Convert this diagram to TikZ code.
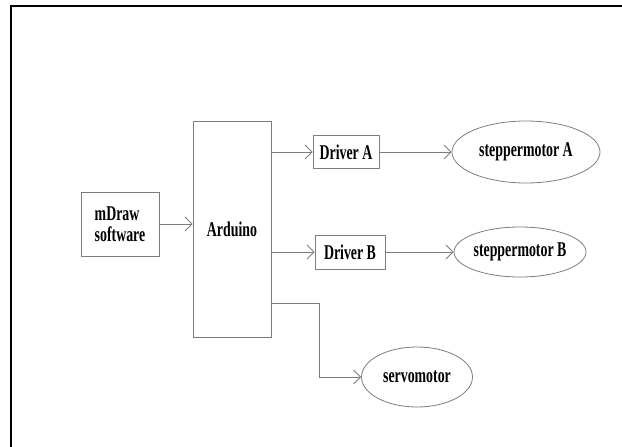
\documentclass[tikz,border=0pt]{standalone}
\usepackage{fontspec}
\newfontfamily\diagfont[FakeStretch=0.66]{Liberation Serif}
\usetikzlibrary{arrows.meta,shapes.geometric}

\begin{document}
\begin{tikzpicture}[x=1pt, y=-1pt,
	block/.style={draw=linegray, line width=0.8pt, rectangle, inner sep=0pt, font=\diagfont\bfseries\fontsize{21}{21}\selectfont},
	motor/.style={draw=linegray, line width=0.8pt, ellipse, inner sep=0pt, font=\diagfont\bfseries\fontsize{21}{21}\selectfont},
	link/.style={draw=linegray, line width=0.8pt, -{Straight Barb[length=7pt, width=14pt]}}]
	\definecolor{linegray}{RGB}{125,125,125}

	\useasboundingbox (0,0) rectangle (622,447);
	\draw[line width=2pt] (11,447) -- (11,6) -- (622,6);

	\node[block, minimum width=78pt, minimum height=64pt, align=left] (mdraw) at (120,224) {mDraw\\software};
	\node[block, minimum width=78pt, minimum height=216pt] (arduino) at (232,229) {Arduino};
	\node[block, minimum width=66pt, minimum height=33pt] (driverA) at (346,152) {Driver A};
	\node[block, minimum width=70pt, minimum height=34pt] (driverB) at (350,252) {Driver B};

	\node[motor, minimum width=148pt, minimum height=62pt] (stepA) at (526,152) {steppermotor A};
	\node[motor, minimum width=132pt, minimum height=50pt] (stepB) at (520,252) {steppermotor B};
	\node[motor, minimum width=111pt, minimum height=60pt] (servo) at (417,377) {servomotor};

	\coordinate (servotap) at (arduino.east |- 0,303);
	\coordinate (servobend) at (319,303);

	\draw[link] (mdraw) -- (mdraw -| arduino.west);
	\draw[link] (arduino.east |- driverA) -- (driverA);
	\draw[link] (arduino.east |- driverB) -- (driverB);
	\draw[link] (driverA) -- (stepA);
	\draw[link] (driverB) -- (stepB);
	\draw[link] (servotap) -- (servobend) |- (servo.west);
\end{tikzpicture}
\end{document}
